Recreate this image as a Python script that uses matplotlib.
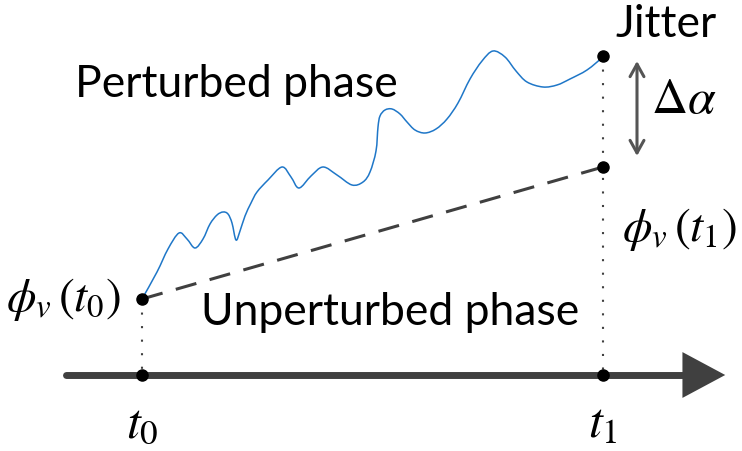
import numpy as np
import matplotlib.pyplot as plt
from matplotlib.path import Path
from matplotlib.patches import PathPatch, FancyArrowPatch

plt.rcParams['mathtext.fontset'] = 'stix'

# diagram coordinates (pixel-like, y grows downward)
t0_x, t1_x = 142, 603
axis_y = 376
phi_t0 = 300
phi_t1 = 168
jitter_top = 57

# perturbed phase trace
pert_x = [142, 157, 168, 179, 187, 195, 203, 210, 217, 223, 228, 232, 236, 240, 245, 251, 257,
          268, 282, 291, 299, 311, 323, 337, 352, 363, 370, 376, 378, 380, 385, 392,
          400, 407, 415, 425, 436, 447, 458, 470, 482, 493, 505, 516, 527, 543, 557, 570, 587, 603]
pert_y = [300, 273, 250, 234, 240, 249, 240, 225, 216, 213, 215, 224, 241, 232, 217, 204, 193,
          181, 168, 178, 189, 177, 168, 176, 186, 183, 173, 152, 128, 117, 111, 110,
          115, 123, 131, 134, 130, 120, 104, 80, 62, 52, 58, 72, 83, 88, 86, 80, 71, 58]


def smooth_path(xs, ys):
    pts = np.column_stack([xs, ys]).astype(float)
    verts = [pts[0]]
    codes = [Path.MOVETO]
    n = len(pts)
    for i in range(n - 1):
        p0 = pts[i - 1] if i > 0 else pts[i]
        p1 = pts[i]
        p2 = pts[i + 1]
        p3 = pts[i + 2] if i + 2 < n else pts[i + 1]
        verts += [p1 + (p2 - p0) / 6, p2 - (p3 - p1) / 6, p2]
        codes += [Path.CURVE4] * 3
    return Path(verts, codes)


fig = plt.figure(figsize=(7.42, 4.52), dpi=100)
ax = fig.add_axes([0, 0, 1, 1])
ax.set_xlim(0, 742)
ax.set_ylim(452, 0)
ax.axis('off')

axis_col = '#404040'

# time axis
ax.plot([66, 705], [axis_y, axis_y], color=axis_col, lw=5, solid_capstyle='round', zorder=2)
ax.add_patch(FancyArrowPatch((695, axis_y), (728, axis_y), arrowstyle='-|>,head_length=1.4,head_width=0.75',
                             mutation_scale=22, color=axis_col, lw=0, zorder=2))

# dotted verticals
ax.plot([t0_x, t0_x], [phi_t0, axis_y], color='#404040', lw=1.5, ls=(0, (1, 5.5)), zorder=1)
ax.plot([t1_x, t1_x], [jitter_top, axis_y], color='#404040', lw=1.5, ls=(0, (1, 5.5)), zorder=1)

# unperturbed phase
ax.plot([t0_x, t1_x], [phi_t0, phi_t1], color='#404040', lw=2.2, ls=(0, (7, 4.5)), zorder=2)

# perturbed phase
ax.add_patch(PathPatch(smooth_path(pert_x, pert_y), fill=False, edgecolor='#1f77c8', lw=1.1, zorder=3))

# points
ax.plot([t0_x, t0_x, t1_x, t1_x, t1_x], [phi_t0, axis_y, axis_y, phi_t1, jitter_top],
        'o', color='black', ms=8, zorder=4)

# jitter arrow
ax.annotate('', xy=(637, 62), xytext=(637, 157),
            arrowprops=dict(arrowstyle='<->,head_length=0.9,head_width=0.5', color='#555555', lw=2.2,
                            shrinkA=0, shrinkB=0))

txt = dict(family='Lato', fontsize=32, color='black', va='baseline')
ax.text(236, 97, 'Perturbed phase', ha='center', **txt)
ax.text(390, 325, 'Unperturbed phase', ha='center', **txt)
ax.text(666, 37, 'Jitter', ha='center', **txt)

mt = dict(fontsize=34, color='black', va='baseline')
ax.text(6, 311, r'$\phi_v\,(t_0)$', ha='left', **mt)
ax.text(622, 241, r'$\phi_v\,(t_1)$', ha='left', **mt)
mt['fontsize'] = 36
ax.text(684, 113, r'$\Delta\alpha$', ha='center', **mt)
ax.text(t0_x, 437, r'$t_0$', ha='center', **mt)
ax.text(t1_x, 437, r'$t_1$', ha='center', **mt)

fig.savefig('out.png', dpi=100, facecolor='white')
